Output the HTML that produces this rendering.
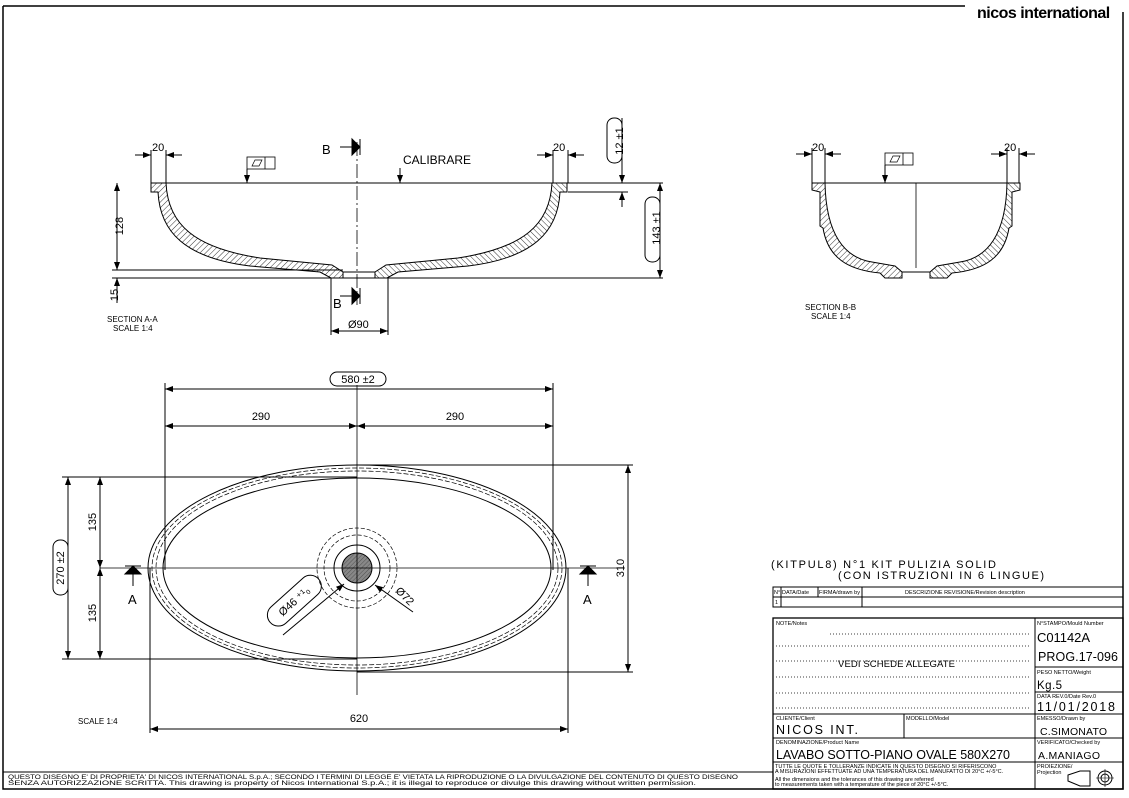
<!DOCTYPE html>
<html><head><meta charset="utf-8"><style>
html,body{margin:0;padding:0;background:#fff}
svg{display:block}
text{font-family:"Liberation Sans",sans-serif;fill:#000}
</style></head><body>
<svg width="1129" height="798" viewBox="0 0 1129 798" xmlns="http://www.w3.org/2000/svg">
<defs>
<pattern id="h" width="4" height="4" patternUnits="userSpaceOnUse" patternTransform="rotate(45)">
<line x1="0" y1="0" x2="0" y2="4" stroke="#000" stroke-width="0.8"/></pattern>
<pattern id="h2" width="3" height="3" patternUnits="userSpaceOnUse" patternTransform="rotate(45)">
<rect width="3" height="3" fill="#888"/><line x1="0" y1="0" x2="0" y2="3" stroke="#444" stroke-width="0.8"/></pattern>
<marker id="a" markerWidth="8" markerHeight="6" refX="8" refY="3" orient="auto-start-reverse" markerUnits="userSpaceOnUse"><path d="M0,0 L8,3 L0,6Z" fill="#000"/></marker>
</defs>
<g fill="none" stroke="#000" stroke-width="1">
<path d="M3,6 H965 M3,6 V789 H1123 V12" stroke-width="1.5"/>
<line x1="3" y1="772" x2="773" y2="772"/>

<line x1="151" y1="183" x2="663" y2="183"/>
<g id="halfA" fill="url(#h)">
<path d="M151,183 L166,183 C168,225 195,248 260,258 L332,265 L343,272 L343,278 L331,278 L320,272 L250,266 C185,258 160,232 158,192 L151,192 Z"/>
</g>
<use href="#halfA" transform="translate(718,0) scale(-1,1)"/>
<line x1="343" y1="272" x2="375" y2="272"/>
<line x1="112" y1="270" x2="343" y2="270"/>
<line x1="112" y1="278" x2="663" y2="278"/>
<line x1="568" y1="192" x2="628" y2="192"/>
<path d="M151,150 V183 M166,150 V183 M553,150 V183 M568,150 V183"/>
<line x1="135" y1="155" x2="151" y2="155" marker-end="url(#a)"/>
<line x1="182" y1="155" x2="166" y2="155" marker-end="url(#a)"/>
<line x1="537" y1="155" x2="553" y2="155" marker-end="url(#a)"/>
<line x1="584" y1="155" x2="568" y2="155" marker-end="url(#a)"/>
<rect x="247" y="157" width="28" height="12" stroke-width="0.8"/><line x1="265" y1="157" x2="265" y2="169" stroke-width="0.8"/>
<path d="M252,166 L255,160 L262,160 L259,166Z" stroke-width="0.7"/>
<line x1="247" y1="169" x2="247" y2="183" marker-end="url(#a)"/>
<line x1="400" y1="168" x2="400" y2="183" marker-end="url(#a)"/>
<line x1="357" y1="142" x2="357" y2="305" stroke-dasharray="14,3,2,3" stroke-width="0.8"/>
<line x1="340" y1="147" x2="352" y2="147"/><path d="M352,139 L360,147 L352,155Z M360,139 V155" fill="#000"/>
<line x1="340" y1="296" x2="352" y2="296"/><path d="M352,288 L360,296 L352,304Z M360,288 V304" fill="#000"/>
<line x1="117" y1="183" x2="117" y2="270" marker-start="url(#a)" marker-end="url(#a)"/>
<line x1="117" y1="303" x2="117" y2="278" marker-end="url(#a)"/>
<line x1="660" y1="183" x2="660" y2="278" marker-start="url(#a)" marker-end="url(#a)"/>
<rect x="645" y="197" width="15" height="65" rx="7"/>
<line x1="622" y1="118" x2="622" y2="183" marker-end="url(#a)"/>
<line x1="622" y1="207" x2="622" y2="192" marker-end="url(#a)"/>
<rect x="607" y="118" width="15" height="45" rx="7"/>
<path d="M331,278 V335 M388,278 V335"/>
<line x1="331" y1="331" x2="388" y2="331" marker-start="url(#a)" marker-end="url(#a)"/>

<line x1="812" y1="183" x2="1019" y2="183"/>
<g id="halfB" fill="url(#h)">
<path d="M812,183 L825,183 C826,235 845,258 872,262 L895,266 L902,272 L902,278 L885,278 L880,273 C848,270 828,258 823,228 L820,226 L820,192 L812,190 Z"/>
</g>
<use href="#halfB" transform="translate(1832,0) scale(-1,1)"/>
<line x1="902" y1="272" x2="930" y2="272"/>
<line x1="916" y1="183" x2="916" y2="268" stroke-width="0.8"/>
<path d="M812,148 V183 M825,148 V183 M1007,148 V183 M1019,148 V183"/>
<line x1="796" y1="154" x2="812" y2="154" marker-end="url(#a)"/>
<line x1="841" y1="154" x2="825" y2="154" marker-end="url(#a)"/>
<line x1="991" y1="154" x2="1007" y2="154" marker-end="url(#a)"/>
<line x1="1035" y1="154" x2="1019" y2="154" marker-end="url(#a)"/>
<rect x="885" y="153" width="28" height="12" stroke-width="0.8"/><line x1="903" y1="153" x2="903" y2="165" stroke-width="0.8"/>
<path d="M890,162 L893,156 L900,156 L897,162Z" stroke-width="0.7"/>
<line x1="885" y1="165" x2="885" y2="183" marker-end="url(#a)"/>

<ellipse cx="357" cy="568" rx="209" ry="103"/>
<ellipse cx="357" cy="568" rx="205" ry="100" stroke-dasharray="5,2" stroke-width="0.7"/>
<ellipse cx="357" cy="568" rx="201" ry="97" stroke-dasharray="5,2" stroke-width="0.7"/>
<ellipse cx="357" cy="568" rx="194" ry="90"/>
<circle cx="357" cy="568" r="15" fill="url(#h2)"/>
<circle cx="357" cy="568" r="23"/>
<circle cx="357" cy="568" r="33" stroke-dasharray="4,2" stroke-width="0.7"/>
<circle cx="357" cy="568" r="40" stroke-dasharray="4,2" stroke-width="0.7"/>
<line x1="357" y1="385" x2="357" y2="695" stroke-width="0.8"/>
<line x1="100" y1="568" x2="625" y2="568" stroke-width="0.8"/>
<path d="M165,383 V570 M553,383 V570"/>
<line x1="165" y1="389" x2="553" y2="389" marker-start="url(#a)" marker-end="url(#a)"/>
<rect x="330" y="372" width="56" height="14" rx="7"/>
<line x1="165" y1="426" x2="357" y2="426" marker-start="url(#a)" marker-end="url(#a)"/>
<line x1="357" y1="426" x2="553" y2="426" marker-start="url(#a)" marker-end="url(#a)"/>
<path d="M150,568 V733 M568,568 V733"/>
<line x1="150" y1="729" x2="568" y2="729" marker-start="url(#a)" marker-end="url(#a)"/>
<path d="M357,465 H633 M357,672 H633"/>
<line x1="628" y1="465" x2="628" y2="672" marker-start="url(#a)" marker-end="url(#a)"/>
<path d="M62,477 H357 M62,659 H357"/>
<line x1="100" y1="477" x2="100" y2="568" marker-start="url(#a)" marker-end="url(#a)"/>
<line x1="100" y1="568" x2="100" y2="659" marker-start="url(#a)" marker-end="url(#a)"/>
<line x1="68" y1="477" x2="68" y2="659" marker-start="url(#a)" marker-end="url(#a)"/>
<rect x="53" y="540" width="15" height="55" rx="7"/>
<path d="M125,574 L141,574 L133,566Z M125,566 H141" fill="#000"/><line x1="133" y1="574" x2="133" y2="586"/>
<path d="M580,574 L596,574 L588,566Z M580,566 H596" fill="#000"/><line x1="588" y1="574" x2="588" y2="586"/>
<line x1="283" y1="635" x2="344" y2="584" marker-end="url(#a)"/>
<rect x="262" y="590" width="65" height="22" rx="11" transform="rotate(-42 294 601)"/>
<line x1="413" y1="612" x2="375" y2="585" marker-end="url(#a)"/>

<rect x="773" y="587" width="350" height="20"/>
<path d="M773,597 H1123 M781,587 V607 M818,587 V597 M862,587 V607"/>
<rect x="773" y="618" width="350" height="171" stroke-width="1.3"/>
<path d="M1035,618 V789 M1035,667 H1123 M1035,692 H1123 M1035,714 H1123 M1035,738 H1123 M1035,762 H1123 M773,714 H1035 M773,738 H1035 M773,762 H1035 M904,714 V738"/>
<g stroke-dasharray="1,2" stroke-width="0.8">
<path d="M830,634 H1030 M776,646 H1030 M776,661 H1030 M776,677 H1030 M776,693 H1030 M776,708 H1030"/>
</g>
<path d="M1080,771 H1090 V786 H1080 L1068,781 V775 Z"/>
<circle cx="1105" cy="778" r="7"/><circle cx="1105" cy="778" r="4"/>
<path d="M1096,778 H1114 M1105,769 V787" stroke-width="0.6"/>
</g>

<text x="977" y="18" font-size="16" font-weight="bold" letter-spacing="-0.5">nicos international</text>
<g font-size="11">
<text x="152" y="151">20</text><text x="553" y="151">20</text>
<text x="403" y="164" font-size="12">CALIBRARE</text>
<text x="322" y="154" font-size="13">B</text><text x="333" y="308" font-size="13">B</text>
<text x="114" y="235" transform="rotate(-90 114 226)" text-anchor="middle">128</text>
<text x="114" y="299" transform="rotate(-90 114 295)" text-anchor="middle">15</text>
<text x="657" y="233" transform="rotate(-90 656 229)" text-anchor="middle">143 ±1</text>
<text x="619" y="145" transform="rotate(-90 619 141)" text-anchor="middle">12 ±1</text>
<text x="348" y="328">Ø90</text>
<text x="107" y="322" font-size="8">SECTION A-A</text><text x="113" y="331" font-size="8">SCALE 1:4</text>
<text x="812" y="151">20</text><text x="1004" y="151">20</text>
<text x="805" y="310" font-size="8">SECTION B-B</text><text x="811" y="319" font-size="8">SCALE 1:4</text>
<text x="358" y="383" text-anchor="middle">580 ±2</text>
<text x="261" y="420" text-anchor="middle">290</text><text x="455" y="420" text-anchor="middle">290</text>
<text x="359" y="722" text-anchor="middle">620</text>
<text x="624" y="568" transform="rotate(-90 624 568)" text-anchor="middle">310</text>
<text x="96" y="522" transform="rotate(-90 96 522)" text-anchor="middle">135</text>
<text x="96" y="613" transform="rotate(-90 96 613)" text-anchor="middle">135</text>
<text x="64" y="568" transform="rotate(-90 64 568)" text-anchor="middle">270 ±2</text>
<text x="128" y="604" font-size="13">A</text><text x="583" y="604" font-size="13">A</text>
<text x="294" y="605" transform="rotate(-42 294 601)" text-anchor="middle">Ø46 ⁺¹₀</text>
<text x="398" y="596" transform="rotate(45 402 590)">Ø72</text>
<text x="78" y="724" font-size="8">SCALE 1:4</text>
<text x="771" y="568" font-size="11" textLength="225" lengthAdjust="spacing">(KITPUL8) N°1 KIT PULIZIA SOLID</text>
<text x="838" y="579" font-size="11" textLength="206" lengthAdjust="spacing">(CON ISTRUZIONI IN 6 LINGUE)</text>
</g>
<g font-size="5.5">
<text x="774" y="594">N°</text><text x="782" y="594">DATA/Date</text><text x="819" y="594">FIRMA/drawn by</text>
<text x="905" y="594">DESCRIZIONE REVISIONE/Revision description</text>
<text x="775" y="604">1</text>
<text x="776" y="625">NOTE/Notes</text>
<text x="1037" y="625">N°STAMPO/Mould Number</text>
<text x="1037" y="674">PESO NETTO/Weight</text>
<text x="1037" y="698">DATA REV.0/Date Rev.0</text>
<text x="1037" y="720">EMESSO/Drawn by</text>
<text x="1037" y="744">VERIFICATO/Checked by</text>
<text x="1037" y="768">PROIEZIONE/</text><text x="1037" y="774">Projection</text>
<text x="776" y="720">CLIENTE/Client</text><text x="906" y="720">MODELLO/Model</text>
<text x="776" y="744">DENOMINAZIONE/Product Name</text>
<text x="775" y="768">TUTTE LE QUOTE E TOLLERANZE INDICATE IN QUESTO DISEGNO SI RIFERISCONO</text>
<text x="775" y="773">A MISURAZIONI EFFETTUATE AD UNA TEMPERATURA DEL MANUFATTO DI 20°C +/-5°C.</text>
<text x="775" y="781">All the dimensions and the tolerances of this drawing are referred</text>
<text x="775" y="786">to measurements taken with a temperature of the piece of 20°C +/-5°C.</text>
<text x="8" y="779" font-size="6" textLength="730" lengthAdjust="spacingAndGlyphs">QUESTO DISEGNO E' DI PROPRIETA' DI NICOS INTERNATIONAL S.p.A.; SECONDO I TERMINI DI LEGGE E' VIETATA LA RIPRODUZIONE O LA DIVULGAZIONE DEL CONTENUTO DI QUESTO DISEGNO</text>
<text x="8" y="785" font-size="6" textLength="688" lengthAdjust="spacingAndGlyphs">SENZA AUTORIZZAZIONE SCRITTA. This drawing is property of Nicos International S.p.A.; it is illegal to reproduce or divulge this drawing without written permission.</text>
</g>
<g font-size="12.5">
<text x="838" y="667" font-size="9.5" textLength="117" lengthAdjust="spacing">VEDI SCHEDE ALLEGATE</text>
<text x="1037" y="642" font-size="13" textLength="53" lengthAdjust="spacing">C01142A</text>
<text x="1038" y="661" textLength="80" lengthAdjust="spacing">PROG.17-096</text>
<text x="1037" y="689" font-size="11.5" textLength="25" lengthAdjust="spacing">Kg.5</text>
<text x="1037" y="711" textLength="78" lengthAdjust="spacing">11/01/2018</text>
<text x="776" y="734" textLength="82" lengthAdjust="spacing">NICOS INT.</text>
<text x="1040" y="735" font-size="10.5" textLength="67" lengthAdjust="spacing">C.SIMONATO</text>
<text x="776" y="759" textLength="234" lengthAdjust="spacing">LAVABO SOTTO-PIANO OVALE 580X270</text>
<text x="1038" y="759" font-size="10.5" textLength="62" lengthAdjust="spacing">A.MANIAGO</text>
</g>
</svg>
</body></html>
